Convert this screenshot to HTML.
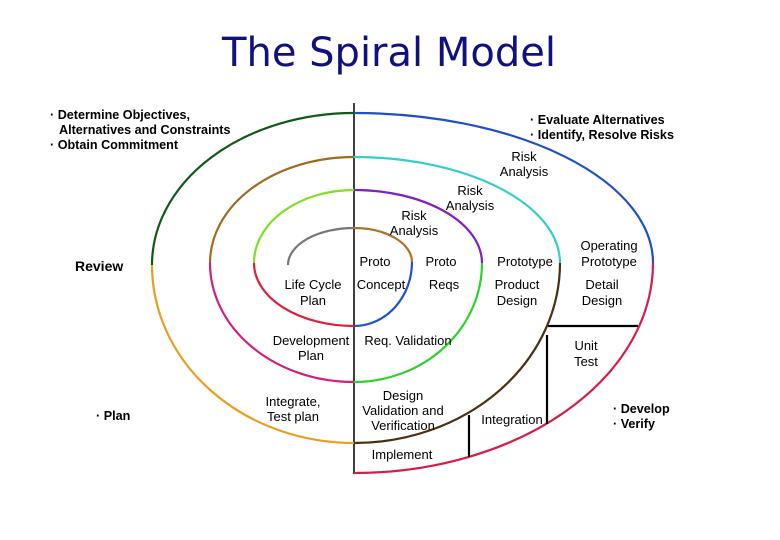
<!DOCTYPE html>
<html><head><meta charset="utf-8"><style>
html,body{margin:0;padding:0;background:#fff;width:780px;height:540px;overflow:hidden}
svg{display:block}
text{font-family:"Liberation Sans",sans-serif}
.b{font-weight:bold;font-size:12.6px}
.n{font-size:13px;text-anchor:middle}
</style></head><body>
<svg width="780" height="540" viewBox="0 0 780 540">
<text x="389" y="66" text-anchor="middle" font-size="40" fill="#101080" style="font-family:'DejaVu Sans',sans-serif">The Spiral Model</text>
<line x1="354" y1="103" x2="354" y2="474" stroke="#000" stroke-width="1.5"/>
<g fill="none" stroke-width="2.2">
<path d="M288 265 A66 37 0 0 1 354 228" stroke="#777"/>
<path d="M354 228 A58 34 0 0 1 412 262" stroke="#a8742a"/>
<path d="M412 262 A58 64 0 0 1 354 326" stroke="#2050d0"/>
<path d="M354 326 A100 63 0 0 1 254 263" stroke="#e0203a"/>
<path d="M254 263 A100 73 0 0 1 354 190" stroke="#80e020"/>
<path d="M354 190 A128 73 0 0 1 482 263" stroke="#8020c0"/>
<path d="M482 263 A128 119 0 0 1 354 382" stroke="#30d030"/>
<path d="M354 382 A144 119 0 0 1 210 263" stroke="#d02080"/>
<path d="M210 263 A144 106 0 0 1 354 157" stroke="#a06a20"/>
<path d="M354 157 A206 106 0 0 1 560 263" stroke="#30d0c8"/>
<path d="M560 263 A206 180 0 0 1 354 443" stroke="#4a3010"/>
<path d="M354 443 A202 178 0 0 1 152 265" stroke="#e8a020"/>
<path d="M152 265 A202 152 0 0 1 354 113" stroke="#105a18"/>
<path d="M354 113 A299 150 0 0 1 653 263" stroke="#2050c8"/>
<path d="M653 263 A299 210 0 0 1 354 473" stroke="#d81c48"/>
</g>
<g stroke="#000" stroke-width="2.2">
<line x1="548" y1="326" x2="638" y2="326"/>
<line x1="547" y1="335" x2="547" y2="424"/>
<line x1="469" y1="415" x2="469" y2="457"/>
</g>
<g class="b">
<text x="50" y="119">· Determine Objectives,</text>
<text x="59" y="134">Alternatives and Constraints</text>
<text x="50" y="149">· Obtain Commitment</text>
<text x="530" y="124">· Evaluate Alternatives</text>
<text x="530" y="139">· Identify, Resolve Risks</text>
<text x="75" y="271" font-size="14">Review</text>
<text x="96" y="420">· Plan</text>
<text x="613" y="413">· Develop</text>
<text x="613" y="428">· Verify</text>
</g>
<g class="n">
<text x="524" y="161">Risk</text><text x="524" y="176">Analysis</text>
<text x="470" y="195">Risk</text><text x="470" y="210">Analysis</text>
<text x="414" y="220">Risk</text><text x="414" y="235">Analysis</text>
<text x="609" y="250">Operating</text><text x="609" y="266">Prototype</text>
<text x="375" y="266">Proto</text>
<text x="441" y="266">Proto</text>
<text x="525" y="266">Prototype</text>
<text x="313" y="289">Life Cycle</text><text x="313" y="305">Plan</text>
<text x="381" y="289">Concept</text>
<text x="444" y="289">Reqs</text>
<text x="517" y="289">Product</text><text x="517" y="305">Design</text>
<text x="602" y="289">Detail</text><text x="602" y="305">Design</text>
<text x="311" y="345">Development</text><text x="311" y="360">Plan</text>
<text x="408" y="345">Req. Validation</text>
<text x="586" y="350">Unit</text><text x="586" y="366">Test</text>
<text x="293" y="406">Integrate,</text><text x="293" y="421">Test plan</text>
<text x="403" y="400">Design</text><text x="403" y="415">Validation and</text><text x="403" y="430">Verification</text>
<text x="512" y="424">Integration</text>
<text x="402" y="459">Implement</text>
</g>
</svg>
</body></html>
